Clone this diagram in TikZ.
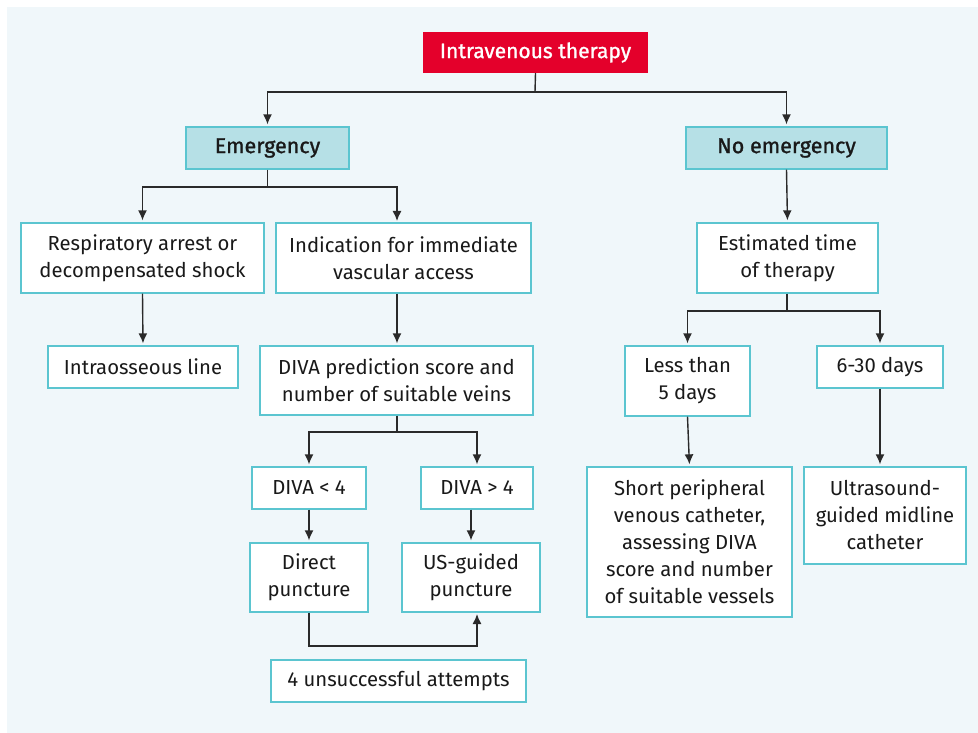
\documentclass[tikz,border=0pt]{standalone}
\usepackage{fontspec}
\setmainfont{Fira Sans}
\newfontfamily\headfont[FakeBold=1.2]{Fira Sans}
\usetikzlibrary{arrows.meta,calc}
\definecolor{bgpanel}{HTML}{F0F7FA}
\definecolor{redbox}{HTML}{E4002B}
\definecolor{tealfill}{HTML}{B6E0E6}
\definecolor{tealline}{HTML}{5BC5D0}
\definecolor{conn}{HTML}{2A2A2A}
\tikzset{
  box/.style={draw=tealline, line width=1.3pt, fill=white, inner sep=0pt, align=center,
    font=\fontsize{20.3}{27}\selectfont, text=black!90},
  headbox/.style={box, fill=tealfill, font=\fontsize{21.5}{27}\selectfont\headfont},
  topbox/.style={fill=redbox, inner sep=0pt, align=center, text=white,
    font=\fontsize{21}{27}\selectfont\headfont},
  line/.style={draw=conn, line width=1.4pt},
  arr/.style={line, -{Latex[length=10pt,width=9pt]}, shorten >=2pt},
}
\begin{document}
\begin{tikzpicture}[x=1pt,y=-1pt]
\useasboundingbox (0,0) rectangle (978,733);
\fill[white] (0,0) rectangle (978,733);
\fill[bgpanel] (7,7) rectangle (978,733);

\node[topbox, minimum width=225pt, minimum height=41pt] (top) at (535.5,52.5) {Intravenous therapy};
\node[headbox, minimum width=163pt, minimum height=42pt] (emerg) at (267.5,148) {Emergency};
\node[headbox, minimum width=201pt, minimum height=42pt] (noemerg) at (786.5,148) {No emergency};

\node[box, minimum width=243pt, minimum height=70pt] (resp) at (142.5,258) {Respiratory arrest or\\decompensated shock};
\node[box, minimum width=255pt, minimum height=70pt] (indic) at (403.5,258) {Indication for immediate\\vascular access};
\node[box, minimum width=190pt, minimum height=42pt] (intra) at (143,367) {Intraosseous line};
\node[box, minimum width=273pt, minimum height=69pt] (divapred) at (396.5,380.5) {DIVA prediction score and\\number of suitable veins};
\node[box, minimum width=114pt, minimum height=42pt] (dless) at (309,488) {DIVA < 4};
\node[box, minimum width=112pt, minimum height=42pt] (dmore) at (477,488) {DIVA > 4};
\node[box, minimum width=118pt, minimum height=69pt] (direct) at (309,577.5) {Direct\\puncture};
\node[box, minimum width=138pt, minimum height=69pt] (usg) at (471,577.5) {US-guided\\puncture};
\node[box, minimum width=255pt, minimum height=42pt] (unsucc) at (398.5,681) {4 unsuccessful attempts};

\node[box, minimum width=181pt, minimum height=70pt] (est) at (787.5,258) {Estimated time\\of therapy};
\node[box, minimum width=125pt, minimum height=70pt] (lessfive) at (687.5,381) {Less than\\5 days};
\node[box, minimum width=126pt, minimum height=42pt] (sixthirty) at (880,367) {6-30 days};
\node[box, minimum width=205pt, minimum height=150pt] (short) at (689.5,542) {Short peripheral\\venous catheter,\\assessing DIVA\\score and number\\of suitable vessels};
\node[box, minimum width=162pt, minimum height=97pt] (ultra) at (885,515.5) {Ultrasound-\\guided midline\\catheter};

% connectors
\coordinate (j1) at (535,92);
\draw[line] (top.south) -- (j1);
\draw[arr] (j1) -| (emerg.north);
\draw[arr] (j1) -| (noemerg.north);

\coordinate (j2) at (267.5,187);
\coordinate (indtop) at (397,223);
\draw[line] (emerg.south) -- (j2);
\draw[arr] (j2) -| (resp.north);
\draw[arr] (j2) -| (indtop);

\draw[arr] (resp.south) -- (intra.north);
\draw[arr] (indtop |- indic.south) -- (indtop |- divapred.north);

\coordinate (j3) at (397,432);
\draw[line] (j3 |- divapred.south) -- (j3);
\draw[arr] (j3) -| (dless.north);
\draw[arr] (j3) -| (dmore.north);

\draw[arr] (dless.south) -- (direct.north);
\draw[arr] (usg.north |- dmore.south) -- (usg.north);

\coordinate (loopend) at (477,612);
\coordinate (loopcorner) at (309,646);
\draw[arr] (direct.south) -- (loopcorner) -| (loopend);

\draw[arr] (noemerg.south) -- (est.north);
\coordinate (j4) at (787,311);
\draw[line] (j4 |- est.south) -- (j4);
\draw[arr] (j4) -| (lessfive.north);
\draw[arr] (j4) -| (sixthirty.north);

\draw[arr] (lessfive.south) -- (short.north);
\draw[arr] (sixthirty.south) -- (sixthirty.south |- ultra.north);
\end{tikzpicture}
\end{document}
